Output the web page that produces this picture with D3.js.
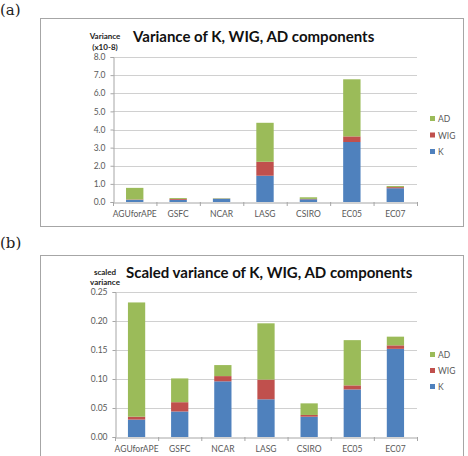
<!DOCTYPE html>
<html><head><meta charset="utf-8">
<script src="https://cdn.jsdelivr.net/npm/d3@7"></script>
<style>
body{margin:0;background:#fff;}
svg{display:block;}
</style></head>
<body>
<svg id="c" width="468" height="456"></svg>
<script>
const categories = ["AGUforAPE","GSFC","NCAR","LASG","CSIRO","EC05","EC07"];
const seriesNames = ["K","WIG","AD"];
const colors = {K:"#4f81bd", WIG:"#c0504d", AD:"#9bbb59"};

// Panel (a): variance (x10-8)
const varK   = [0.12, 0.12, 0.18, 1.45, 0.15, 3.31, 0.76];
const varWIG = [0.02, 0.05, 0.01, 0.77, 0.02, 0.31, 0.06];
const varAD  = [0.64, 0.05, 0.02, 2.15, 0.09, 3.15, 0.06];
const ticksA = [0,1,2,3,4,5,6,7,8];

// Panel (b): scaled variance
const scK   = [0.030, 0.044, 0.096, 0.065, 0.035, 0.082, 0.152];
const scWIG = [0.005, 0.016, 0.009, 0.034, 0.003, 0.007, 0.006];
const scAD  = [0.197, 0.041, 0.019, 0.097, 0.020, 0.078, 0.015];
const ticksB = [0,0.05,0.10,0.15,0.20,0.25];

const svg = d3.select("#c");
const FONT = "Lato, 'Open Sans', sans-serif";

function panel(opt){
  const g = svg.append("g");
  g.append("text").attr("x",0).attr("y",opt.labelY)
    .attr("font-family","'DejaVu Serif', 'Liberation Serif', serif").attr("font-size",15)
    .attr("fill","#222").text(opt.label);
  g.append("rect").attr("x",40.5).attr("y",opt.boxTop+0.5).attr("width",423).attr("height",opt.boxH)
    .attr("fill","#fff").attr("stroke","#a6a6a6").attr("stroke-width",1);

  const x = d3.scaleBand().domain(categories).range([opt.x0, 417]).paddingInner(0.6).paddingOuter(0.3);
  const xb = d3.scaleBand().domain(categories).range([opt.x0, 417]);
  const y = d3.scaleLinear().domain([0, opt.max]).range([opt.y0, opt.y1]);

  g.append("g").selectAll("line").data(opt.ticks.slice(1)).join("line")
    .attr("x1",opt.x0).attr("x2",417).attr("y1",d=>Math.round(y(d))+0.5).attr("y2",d=>Math.round(y(d))+0.5)
    .attr("stroke","#d0d0d0").attr("stroke-width",1);

  const ya = g.append("g").attr("transform",`translate(${opt.x0+0.5},0)`)
    .call(d3.axisLeft(y).tickValues(opt.ticks).tickFormat(opt.fmt).tickSize(3).tickPadding(5));
  ya.select(".domain").attr("stroke","#a6a6a6");
  ya.selectAll(".tick line").attr("stroke","#a6a6a6");
  ya.selectAll("text").attr("font-family",FONT).attr("font-size",8.5).attr("fill","#595959");

  const rows = categories.map((c,i)=>({cat:c, K:opt.K[i], WIG:opt.WIG[i], AD:opt.AD[i]}));
  const stack = d3.stack().keys(seriesNames)(rows);
  g.append("g").selectAll("g").data(stack).join("g").attr("fill",d=>colors[d.key])
    .selectAll("rect").data(d=>d).join("rect")
    .attr("x",d=>x(d.data.cat)).attr("width",x.bandwidth())
    .attr("y",d=>y(d[1])).attr("height",d=>y(d[0])-y(d[1]));

  const xa = g.append("g").attr("transform",`translate(0,${opt.y0+0.5})`)
    .call(d3.axisBottom(xb).tickSize(0).tickPadding(8));
  xa.select(".domain").attr("stroke","#a6a6a6");
  xa.selectAll("text").attr("font-family",FONT).attr("font-size",8.5).attr("fill","#595959");
  g.append("g").selectAll("line").data(d3.range(categories.length+1)).join("line")
    .attr("x1",i=>opt.x0+i*xb.step()+0.5).attr("x2",i=>opt.x0+i*xb.step()+0.5)
    .attr("y1",opt.y0).attr("y2",opt.y0+4).attr("stroke","#a6a6a6");

  g.append("text").attr("x",opt.titleX).attr("y",opt.titleY)
    .attr("font-family",FONT).attr("font-weight","bold").attr("font-size",15)
    .attr("fill","#111").text(opt.title);
  opt.ylab.forEach((t,i)=>{
    g.append("text").attr("x",opt.ylabX).attr("y",opt.ylabY+i*opt.ylabStep).attr("text-anchor","middle")
      .attr("font-family",FONT).attr("font-weight","bold").attr("font-size",8)
      .attr("fill","#222").text(t);
  });

  const leg = ["AD","WIG","K"];
  leg.forEach((k,i)=>{
    const ly = opt.legY + i*opt.legStep;
    g.append("rect").attr("x",430).attr("y",ly-3).attr("width",5).attr("height",5).attr("fill",colors[k]);
    g.append("text").attr("x",438).attr("y",ly+3).attr("font-family",FONT).attr("font-size",8.5)
      .attr("fill","#595959").text(k);
  });
}

panel({label:"(a)", labelY:15, boxTop:18, boxH:208, x0:113, y0:202, y1:57, max:8,
  ticks:ticksA, fmt:d3.format(".1f"), K:varK, WIG:varWIG, AD:varAD,
  title:"Variance of K, WIG, AD components", titleX:133, titleY:42,
  ylab:["Variance","(x10-8)"], ylabX:105, ylabY:39, ylabStep:11, legY:119, legStep:16.5});

panel({label:"(b)", labelY:248, boxTop:255, boxH:240, x0:115, y0:437, y1:292, max:0.25,
  ticks:ticksB, fmt:d3.format(".2f"), K:scK, WIG:scWIG, AD:scAD,
  title:"Scaled variance of K, WIG, AD components", titleX:126, titleY:278,
  ylab:["scaled","variance"], ylabX:105, ylabY:275, ylabStep:9.5, legY:355, legStep:16});
</script>
</body></html>
